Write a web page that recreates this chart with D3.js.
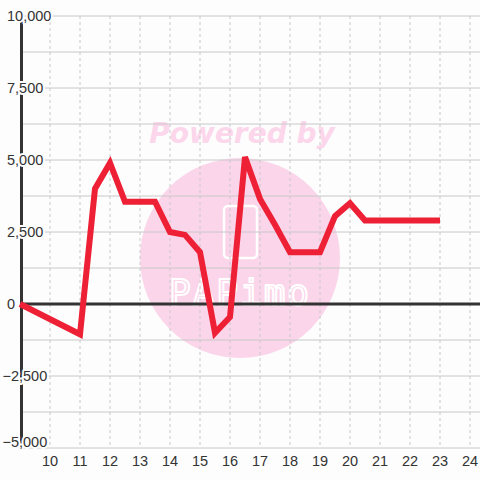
<!DOCTYPE html>
<html>
<head>
<meta charset="utf-8">
<script src="https://cdn.jsdelivr.net/npm/d3@7"></script>
<style>
  html, body { margin: 0; padding: 0; background: #fdfdfd; }
  svg { display: block; }
</style>
</head>
<body>
<div id="chart"></div>
<script>
// Data
const xValues = [9, 11, 11.5, 12, 12.5, 13.5, 14, 14.5, 15, 15.5, 16, 16.5, 17, 17.5, 18, 19, 19.5, 20, 20.5, 23];
const yValues = [0, -1050, 4000, 4900, 3550, 3550, 2500, 2400, 1800, -1000, -450, 5100, 3650, 2750, 1800, 1800, 3050, 3500, 2900, 2900];
const yTicks = [-5000, -2500, 0, 2500, 5000, 7500, 10000];
const yGrid = [-5000, -3750, -2500, -1250, 0, 1250, 2500, 3750, 5000, 6250, 7500, 8750, 10000];
const xTicks = [10, 11, 12, 13, 14, 15, 16, 17, 18, 19, 20, 21, 22, 23, 24];

const W = 480, H = 480;
const plot = { left: 20, right: 480, top: 16, bottom: 448 };

const svg = d3.select('#chart').append('svg')
  .attr('width', W).attr('height', H);

svg.append('rect').attr('width', W).attr('height', H).attr('fill', '#fdfdfd');

const x = d3.scaleLinear().domain([9, 24 + 1 / 3]).range([plot.left, plot.right]);
const y = d3.scaleLinear().domain([-5000, 10000]).range([plot.bottom, plot.top]);

// Watermark
const wm = svg.append('g');
wm.append('circle').attr('cx', 240).attr('cy', 258).attr('r', 100).attr('fill', '#fbd5ea');
wm.append('text')
  .attr('x', 242).attr('y', 143)
  .attr('text-anchor', 'middle')
  .style('font-family', '"DejaVu Sans", sans-serif')
  .style('font-weight', 'bold').style('font-style', 'italic')
  .style('font-size', '28px')
  .attr('fill', '#fcd6eb')
  .text('Powered by');
wm.append('rect')
  .attr('x', 224).attr('y', 206).attr('width', 33).attr('height', 52).attr('rx', 4)
  .attr('fill', 'none').attr('stroke', '#fff').attr('stroke-width', 2.5);
wm.append('text')
  .attr('x', 240).attr('y', 305)
  .attr('text-anchor', 'middle')
  .style('font-family', '"DejaVu Sans Mono", monospace')
  .style('font-size', '36px')
  .style('letter-spacing', '2px')
  .attr('fill', 'none').attr('stroke', '#fff').attr('stroke-width', 2)
  .text('PAPimo');

// Horizontal grid
svg.append('g')
  .selectAll('line').data(yGrid).join('line')
  .attr('x1', plot.left).attr('x2', plot.right)
  .attr('y1', d => y(d)).attr('y2', d => y(d))
  .attr('stroke', '#c8c8c8').attr('stroke-width', 1);

// Vertical dashed grid
svg.append('g')
  .selectAll('line').data(xTicks).join('line')
  .attr('x1', d => x(d)).attr('x2', d => x(d))
  .attr('y1', plot.top).attr('y2', plot.bottom)
  .attr('stroke', '#c8c8c8').attr('stroke-width', 1)
  .attr('stroke-dasharray', '3,3');

// Zero line and y axis line
svg.append('line')
  .attr('x1', plot.left).attr('x2', plot.right)
  .attr('y1', y(0)).attr('y2', y(0))
  .attr('stroke', '#333').attr('stroke-width', 3);
svg.append('line')
  .attr('x1', x(9) + 1.5).attr('x2', x(9) + 1.5)
  .attr('y1', plot.top).attr('y2', plot.bottom)
  .attr('stroke', '#333').attr('stroke-width', 3);

// Y labels with white halo
const fmt = d3.format(',');
svg.append('g')
  .selectAll('text').data(yTicks).join('text')
  .attr('x', d => d < 0 ? 2.5 : 7)
  .attr('y', d => Math.min(y(d), plot.bottom - 6))
  .attr('dy', '0.35em')
  .style('font-family', '"Liberation Sans", Arial, sans-serif')
  .style('font-size', '14.5px')
  .style('paint-order', 'stroke')
  .attr('stroke', '#fdfdfd').attr('stroke-width', 4).attr('stroke-linejoin', 'round')
  .attr('fill', '#333')
  .text(d => fmt(d));

// X labels
svg.append('g')
  .selectAll('text').data(xTicks).join('text')
  .attr('x', d => x(d))
  .attr('y', 461)
  .attr('dy', '0.35em')
  .attr('text-anchor', 'middle')
  .style('font-family', '"Liberation Sans", Arial, sans-serif')
  .style('font-size', '14.5px')
  .attr('fill', '#333')
  .text(d => d);

// Data line
const pts = xValues.map((v, i) => [v, yValues[i]]);
svg.append('path')
  .datum(pts)
  .attr('fill', 'none')
  .attr('stroke', '#ee2035')
  .attr('stroke-width', 6)
  .attr('stroke-linejoin', 'miter')
  .attr('d', d3.line().x(d => x(d[0])).y(d => y(d[1])));
</script>
</body>
</html>
